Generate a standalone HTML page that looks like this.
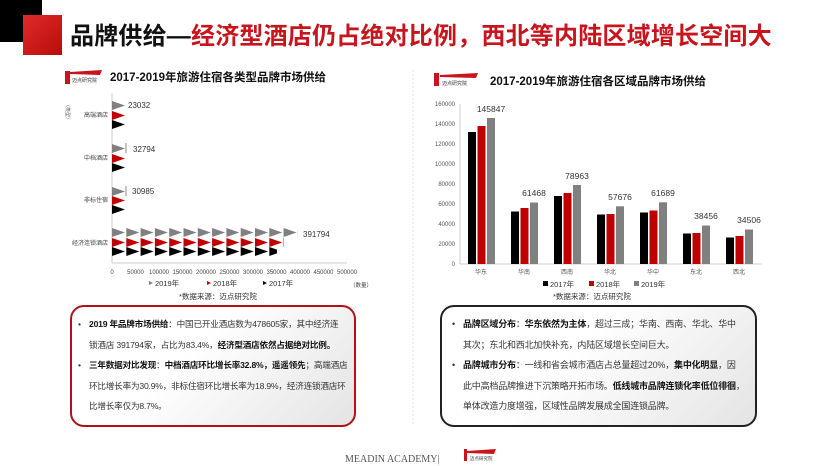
<!DOCTYPE html>
<html><head><meta charset="utf-8"><style>
*{margin:0;padding:0;box-sizing:border-box}
body{width:830px;height:466px;background:#fff;position:relative;overflow:hidden;font-family:"Liberation Sans","Noto Sans CJK SC",sans-serif}
.abs{position:absolute}
.box{position:absolute;border-radius:14px;background:linear-gradient(135deg,#fff 40%,#e4e4e4);padding:7px 4px 0 6px;font-size:9px;color:#333;line-height:20.5px;white-space:nowrap;letter-spacing:-0.2px}
.box p{position:relative;padding-left:11px}
.box p:before{content:"•";position:absolute;left:0;top:0}
b{color:#111}
</style></head><body>
<div class="abs" style="left:0;top:0;width:42px;height:42px;background:#000"></div>
<div class="abs" style="left:23px;top:15px;width:39px;height:40px;background:linear-gradient(135deg,#e02a2a,#b80d0d)"></div>
<div class="abs" style="left:70px;top:22px;font-size:24px;font-weight:bold;white-space:nowrap;letter-spacing:0.2px;line-height:30px"><span style="color:#111">品牌供给—</span><span style="color:#c8141c">经济型酒店仍占绝对比例，西北等内陆区域增长空间大</span></div>

<svg class="abs" style="left:0;top:0" width="830" height="466">
<defs>
<pattern id="pg" x="0" y="0" width="14.3" height="9" patternUnits="userSpaceOnUse"><polygon points="0,0 13,4.5 0,9" fill="#808080"/></pattern>
<pattern id="pr" x="0" y="0" width="14.3" height="9" patternUnits="userSpaceOnUse"><polygon points="0,0 13,4.5 0,9" fill="#c00000"/></pattern>
<pattern id="pb" x="0" y="0" width="14.3" height="9" patternUnits="userSpaceOnUse"><polygon points="0,0 13,4.5 0,9" fill="#000"/></pattern>
</defs>
<rect x="65" y="71" width="5" height="13" fill="#c8141c"/><polygon points="70,72 102,70 100,75 70,74" fill="#c8141c"/>
<text x="72" y="82" font-size="5" fill="#333">迈点研究院</text>
<text x="110" y="81" font-size="11.5" font-weight="bold" fill="#111">2017-2019年旅游住宿各类型品牌市场供给</text>
<line x1="112" y1="93" x2="112" y2="263" stroke="#ccc"/>
<line x1="112" y1="263" x2="347" y2="263" stroke="#ccc"/>
<text x="66" y="102" font-size="5" fill="#555" transform="rotate(90 66 102)">（类型）</text>
<g font-size="6" fill="#444" text-anchor="end">
<text x="108" y="117">高端酒店</text><text x="108" y="160">中档酒店</text><text x="108" y="202">非标住宿</text><text x="108" y="245">经济连锁酒店</text></g>
<g transform="translate(112,101)"><rect width="14" height="9" fill="url(#pg)"/></g>
<g transform="translate(112,111)"><rect width="14" height="9" fill="url(#pr)"/></g>
<g transform="translate(112,120)"><rect width="14" height="9" fill="url(#pb)"/></g>
<g transform="translate(112,144)"><rect width="14" height="9" fill="url(#pg)"/></g>
<g transform="translate(112,154)"><rect width="14" height="9" fill="url(#pr)"/></g>
<g transform="translate(112,163)"><rect width="14" height="9" fill="url(#pb)"/></g>
<g transform="translate(112,187)"><rect width="14" height="9" fill="url(#pg)"/></g>
<g transform="translate(112,196)"><rect width="14" height="9" fill="url(#pr)"/></g>
<g transform="translate(112,205)"><rect width="14" height="9" fill="url(#pb)"/></g>
<g transform="translate(112,228)"><rect width="186" height="9" fill="url(#pg)"/></g>
<g transform="translate(112,238)"><rect width="172" height="9" fill="url(#pr)"/></g>
<g transform="translate(112,247)"><rect width="165" height="9" fill="url(#pb)"/></g>
<line x1="126" y1="143" x2="126" y2="153" stroke="#555" stroke-width="0.7"/>
<line x1="126" y1="186" x2="126" y2="196" stroke="#555" stroke-width="0.7"/>
<g font-size="8" fill="#333"><text x="128" y="108">23032</text><text x="133" y="152">32794</text><text x="132" y="194">30985</text><text x="303" y="237">391794</text></g>
<g font-size="6" fill="#444" text-anchor="middle">
<text x="112" y="274">0</text><text x="135.5" y="274">50000</text><text x="159" y="274">100000</text><text x="182.5" y="274">150000</text><text x="206" y="274">200000</text><text x="229.5" y="274">250000</text><text x="253" y="274">300000</text><text x="276.5" y="274">350000</text><text x="300" y="274">400000</text><text x="323.5" y="274">450000</text><text x="347" y="274">500000</text></g>
<g font-size="7.5" fill="#333"><polygon points="149,281 153,283 149,285" fill="#808080"/><text x="155" y="286">2019年</text>
<polygon points="207,281 211,283 207,285" fill="#c00000"/><text x="213" y="286">2018年</text>
<polygon points="263,281 267,283 263,285" fill="#000"/><text x="269" y="286">2017年</text></g>
<text x="350" y="287" font-size="5.5" fill="#444">（数量）</text>
<text x="179" y="299" font-size="7.5" fill="#333">*数据来源：迈点研究院</text>
<line x1="413" y1="70" x2="413" y2="425" stroke="#e4e4e4" stroke-dasharray="2,2"/>
<rect x="434" y="73" width="5" height="13" fill="#c8141c"/><polygon points="440,75 478,73 476,78 440,77" fill="#c8141c"/>
<text x="442" y="85" font-size="5" fill="#333">迈点研究院</text>
<text x="490" y="85" font-size="11.5" font-weight="bold" fill="#111">2017-2019年旅游住宿各区域品牌市场供给</text>
<g font-size="6" fill="#555" text-anchor="end">
<text x="455" y="266">0</text><text x="455" y="246">20000</text><text x="455" y="226">40000</text><text x="455" y="206">60000</text><text x="455" y="186">80000</text><text x="455" y="166">100000</text><text x="455" y="146">120000</text><text x="455" y="126">140000</text><text x="455" y="106">160000</text></g>
<line x1="460" y1="104" x2="460" y2="264" stroke="#ccc"/><line x1="460" y1="264" x2="762" y2="264" stroke="#ccc"/>
<g>
<rect x="468" y="132" width="8" height="132" fill="#000"/><rect x="477.5" y="126" width="8" height="138" fill="#c00000"/><rect x="487" y="118" width="8" height="146" fill="#808080"/>
<rect x="511" y="211.5" width="8" height="52.5" fill="#000"/><rect x="520.5" y="208" width="8" height="56" fill="#c00000"/><rect x="530" y="202.5" width="8" height="61.5" fill="#808080"/>
<rect x="554" y="196" width="8" height="68" fill="#000"/><rect x="563.5" y="193" width="8" height="71" fill="#c00000"/><rect x="573" y="185" width="8" height="79" fill="#808080"/>
<rect x="597" y="214.5" width="8" height="49.5" fill="#000"/><rect x="606.5" y="214" width="8" height="50" fill="#c00000"/><rect x="616" y="206.3" width="8" height="57.7" fill="#808080"/>
<rect x="640" y="212.5" width="8" height="51.5" fill="#000"/><rect x="649.5" y="210.5" width="8" height="53.5" fill="#c00000"/><rect x="659" y="202.3" width="8" height="61.7" fill="#808080"/>
<rect x="683" y="233.5" width="8" height="30.5" fill="#000"/><rect x="692.5" y="233" width="8" height="31" fill="#c00000"/><rect x="702" y="225.5" width="8" height="38.5" fill="#808080"/>
<rect x="726" y="237.5" width="8" height="26.5" fill="#000"/><rect x="735.5" y="236" width="8" height="28" fill="#c00000"/><rect x="745" y="229.5" width="8" height="34.5" fill="#808080"/>
</g>
<g font-size="8.5" fill="#333" text-anchor="middle">
<text x="491" y="112">145847</text><text x="534" y="196">61468</text><text x="577" y="179">78963</text><text x="620" y="200">57676</text><text x="663" y="196">61689</text><text x="706" y="219">38456</text><text x="749" y="223">34506</text></g>
<g font-size="6" fill="#555" text-anchor="middle">
<text x="481" y="274">华东</text><text x="524" y="274">华南</text><text x="567" y="274">西南</text><text x="610" y="274">华北</text><text x="653" y="274">华中</text><text x="696" y="274">东北</text><text x="739" y="274">西北</text></g>
<g font-size="7.5" fill="#333"><rect x="543" y="281" width="5" height="5" fill="#000"/><text x="550" y="287">2017年</text>
<rect x="589" y="281" width="5" height="5" fill="#c00000"/><text x="596" y="287">2018年</text>
<rect x="634" y="281" width="5" height="5" fill="#808080"/><text x="641" y="287">2019年</text></g>
<text x="553" y="299" font-size="7.5" fill="#333">*数据来源：迈点研究院</text>
<text x="345" y="462" font-size="10" fill="#555" font-family="Liberation Serif,serif">MEADIN ACADEMY|</text>
<rect x="464" y="449" width="3" height="12" fill="#c8141c"/><polygon points="467,451 496,449 494,454 467,453" fill="#c8141c"/>
<text x="470" y="460" font-size="4.5" fill="#333">迈点研究院</text>
</svg>

<div class="box" style="left:70px;top:305px;width:286px;height:122px;border:2px solid #b01218;font-size:8.6px">
<p><b>2019 年品牌市场供给</b>：中国已开业酒店数为478605家，其中经济连<br>锁酒店 391794家，占比为83.4%，<b>经济型酒店依然占据绝对比例。</b></p>
<p><b>三年数据对比发现</b>：<b>中档酒店环比增长率32.8%，遥遥领先</b>；高端酒店<br>环比增长率为30.9%，非标住宿环比增长率为18.9%，经济连锁酒店环<br>比增长率仅为8.7%。</p>
</div>
<div class="box" style="left:440px;top:305px;width:317px;height:122px;border:2px solid #222;padding-left:10px">
<p><b>品牌区域分布</b>：<b>华东依然为主体</b>，超过三成；华南、西南、华北、华中<br>其次；东北和西北加快补充，内陆区域增长空间巨大。</p>
<p><b>品牌城市分布</b>：一线和省会城市酒店占总量超过20%，<b>集中化明显</b>，因<br>此中高档品牌推进下沉策略开拓市场。<b>低线城市品牌连锁化率低位徘徊</b>，<br>单体改造力度增强，区域性品牌发展成全国连锁品牌。</p>
</div>
</body></html>
